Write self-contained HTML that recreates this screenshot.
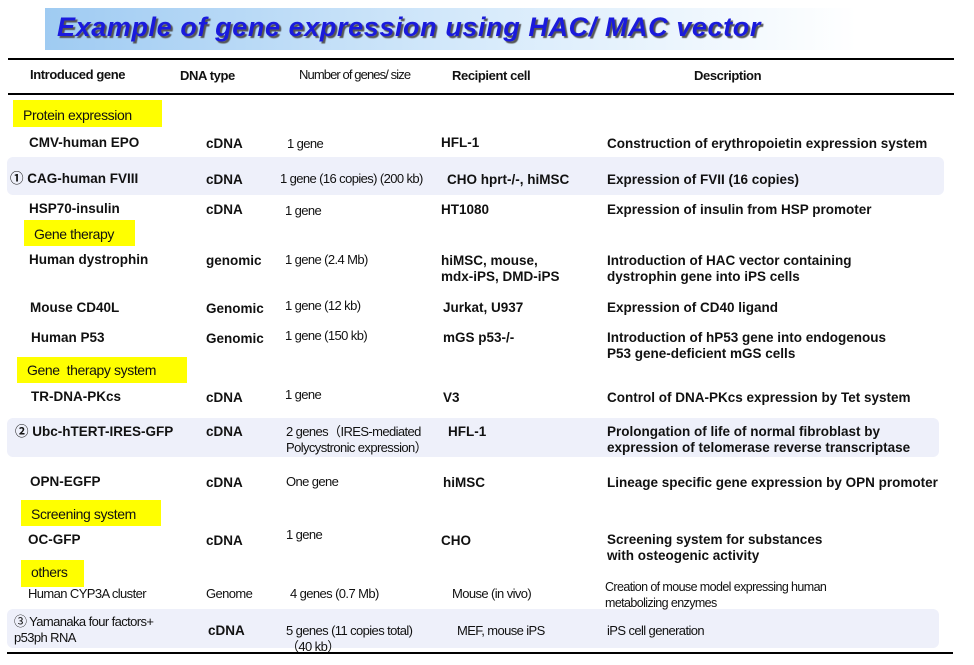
<!DOCTYPE html>
<html><head><meta charset="utf-8"><style>
body{margin:0;width:974px;height:665px;background:#fff;position:relative;overflow:hidden;font-family:"Liberation Sans","Noto Sans CJK JP",sans-serif;}
.t{position:absolute;font-size:13.5px;font-weight:bold;color:#111;white-space:nowrap;line-height:16px;}
.n{font-weight:normal;letter-spacing:-0.6px;font-size:13px;}
.h{font-weight:bold;letter-spacing:-0.4px;font-size:13px;}
.c{font-size:14px;letter-spacing:-0.4px;}
.y{position:absolute;background:#ffff00;}
.band{position:absolute;background:#eef0fa;border-radius:6px;}
.line{position:absolute;height:1.5px;background:#000;}
</style></head><body>
<div style="position:absolute;left:45px;top:8px;width:812px;height:42px;background:linear-gradient(90deg,#9fcbf2,#d8ebfb 55%,#fff);"></div>
<div style="position:absolute;left:57px;top:12px;font-size:27px;font-weight:bold;font-style:italic;color:#1a1adc;text-shadow:2px 2px 1px #555;letter-spacing:0.6px;white-space:nowrap;">Example of gene expression using HAC/ MAC vector</div>
<div class="line" style="left:8px;top:58px;width:946px;"></div>
<div class="line" style="left:8px;top:93px;width:946px;"></div>
<div class="line" style="left:7px;top:652px;width:946px;"></div>

<div class="band" style="left:7px;top:157px;width:937px;height:38px;"></div>
<div class="band" style="left:7px;top:418px;width:932px;height:39px;"></div>
<div class="band" style="left:7px;top:609px;width:932px;height:39px;"></div>

<div class="t h" style="left:30px;top:67px;">Introduced gene</div>
<div class="t h" style="left:180px;top:68px;">DNA type</div>
<div class="t h" style="left:299px;top:67px;letter-spacing:-0.9px;font-weight:normal;">Number of genes/ size</div>
<div class="t h" style="left:452px;top:68px;">Recipient cell</div>
<div class="t h" style="left:694px;top:68px;">Description</div>

<div class="y" style="left:13px;top:100px;width:149px;height:27px;"></div>
<div class="t n c" style="left:23px;top:107px;">Protein expression</div>
<div class="y" style="left:24px;top:220px;width:111px;height:26px;"></div>
<div class="t n c" style="left:34px;top:226px;">Gene therapy</div>
<div class="y" style="left:17px;top:357px;width:170px;height:26px;"></div>
<div class="t n c" style="left:27px;top:362px;">Gene &nbsp;therapy system</div>
<div class="y" style="left:21px;top:500px;width:140px;height:26px;"></div>
<div class="t n c" style="left:31px;top:506px;">Screening system</div>
<div class="y" style="left:21px;top:560px;width:63px;height:27px;"></div>
<div class="t n c" style="left:31px;top:564px;">others</div>

<div class="t" style="left:29px;top:135px;">CMV-human EPO</div>
<div class="t" style="left:206px;top:136px;">cDNA</div>
<div class="t n" style="left:287px;top:136px;">1 gene</div>
<div class="t" style="left:441px;top:135px;">HFL-1</div>
<div class="t" style="left:607px;top:136px;">Construction of erythropoietin expression system</div>

<div class="t" style="left:10px;top:171px;">① CAG-human FVIII</div>
<div class="t" style="left:206px;top:172px;">cDNA</div>
<div class="t n" style="left:280px;top:171px;">1 gene (16 copies) (200 kb)</div>
<div class="t" style="left:447px;top:172px;">CHO hprt-/-, hiMSC</div>
<div class="t" style="left:607px;top:172px;">Expression of FVII (16 copies)</div>

<div class="t" style="left:29px;top:201px;">HSP70-insulin</div>
<div class="t" style="left:206px;top:202px;">cDNA</div>
<div class="t n" style="left:285px;top:203px;">1 gene</div>
<div class="t" style="left:441px;top:202px;">HT1080</div>
<div class="t" style="left:607px;top:202px;">Expression of insulin from HSP promoter</div>

<div class="t" style="left:29px;top:252px;">Human dystrophin</div>
<div class="t" style="left:206px;top:253px;">genomic</div>
<div class="t n" style="left:285px;top:252px;">1 gene (2.4 Mb)</div>
<div class="t" style="left:441px;top:253px;">hiMSC, mouse,<br>mdx-iPS, DMD-iPS</div>
<div class="t" style="left:607px;top:253px;">Introduction of HAC vector containing<br>dystrophin gene into iPS cells</div>

<div class="t" style="left:30px;top:300px;">Mouse CD40L</div>
<div class="t" style="left:206px;top:301px;">Genomic</div>
<div class="t n" style="left:285px;top:298px;">1 gene (12 kb)</div>
<div class="t" style="left:443px;top:300px;">Jurkat, U937</div>
<div class="t" style="left:607px;top:300px;">Expression of CD40 ligand</div>

<div class="t" style="left:31px;top:330px;">Human P53</div>
<div class="t" style="left:206px;top:331px;">Genomic</div>
<div class="t n" style="left:285px;top:328px;">1 gene (150 kb)</div>
<div class="t" style="left:443px;top:330px;">mGS p53-/-</div>
<div class="t" style="left:607px;top:330px;">Introduction of hP53 gene into endogenous<br>P53 gene-deficient mGS cells</div>

<div class="t" style="left:31px;top:389px;">TR-DNA-PKcs</div>
<div class="t" style="left:206px;top:390px;">cDNA</div>
<div class="t n" style="left:285px;top:387px;">1 gene</div>
<div class="t" style="left:443px;top:390px;">V3</div>
<div class="t" style="left:607px;top:390px;">Control of DNA-PKcs expression by Tet system</div>

<div class="t" style="left:15px;top:424px;">② Ubc-hTERT-IRES-GFP</div>
<div class="t" style="left:206px;top:424px;">cDNA</div>
<div class="t n" style="left:286px;top:424px;">2 genes（IRES-mediated<br>Polycystronic expression）</div>
<div class="t" style="left:448px;top:424px;">HFL-1</div>
<div class="t" style="left:607px;top:424px;">Prolongation of life of normal fibroblast by<br>expression of telomerase reverse transcriptase</div>

<div class="t" style="left:30px;top:474px;">OPN-EGFP</div>
<div class="t" style="left:206px;top:475px;">cDNA</div>
<div class="t n" style="left:286px;top:474px;">One gene</div>
<div class="t" style="left:443px;top:475px;">hiMSC</div>
<div class="t" style="left:607px;top:475px;">Lineage specific gene expression by OPN promoter</div>

<div class="t" style="left:28px;top:532px;">OC-GFP</div>
<div class="t" style="left:206px;top:533px;">cDNA</div>
<div class="t n" style="left:286px;top:527px;">1 gene</div>
<div class="t" style="left:441px;top:533px;">CHO</div>
<div class="t" style="left:607px;top:532px;">Screening system for substances<br>with osteogenic activity</div>

<div class="t n" style="left:28px;top:586px;">Human CYP3A cluster</div>
<div class="t n" style="left:206px;top:586px;">Genome</div>
<div class="t n" style="left:290px;top:586px;">4 genes (0.7 Mb)</div>
<div class="t n" style="left:452px;top:586px;">Mouse (in vivo)</div>
<div class="t n" style="left:605px;top:579px;font-size:12.5px;">Creation of mouse model expressing human<br>metabolizing enzymes</div>

<div class="t n" style="left:14px;top:614px;">③ Yamanaka four factors+<br>p53ph RNA</div>
<div class="t" style="left:208px;top:623px;">cDNA</div>
<div class="t n" style="left:286px;top:623px;">5 genes (11 copies total)<br>（40 kb）</div>
<div class="t n" style="left:457px;top:623px;">MEF, mouse iPS</div>
<div class="t n" style="left:607px;top:623px;">iPS cell generation</div>
</body></html>
